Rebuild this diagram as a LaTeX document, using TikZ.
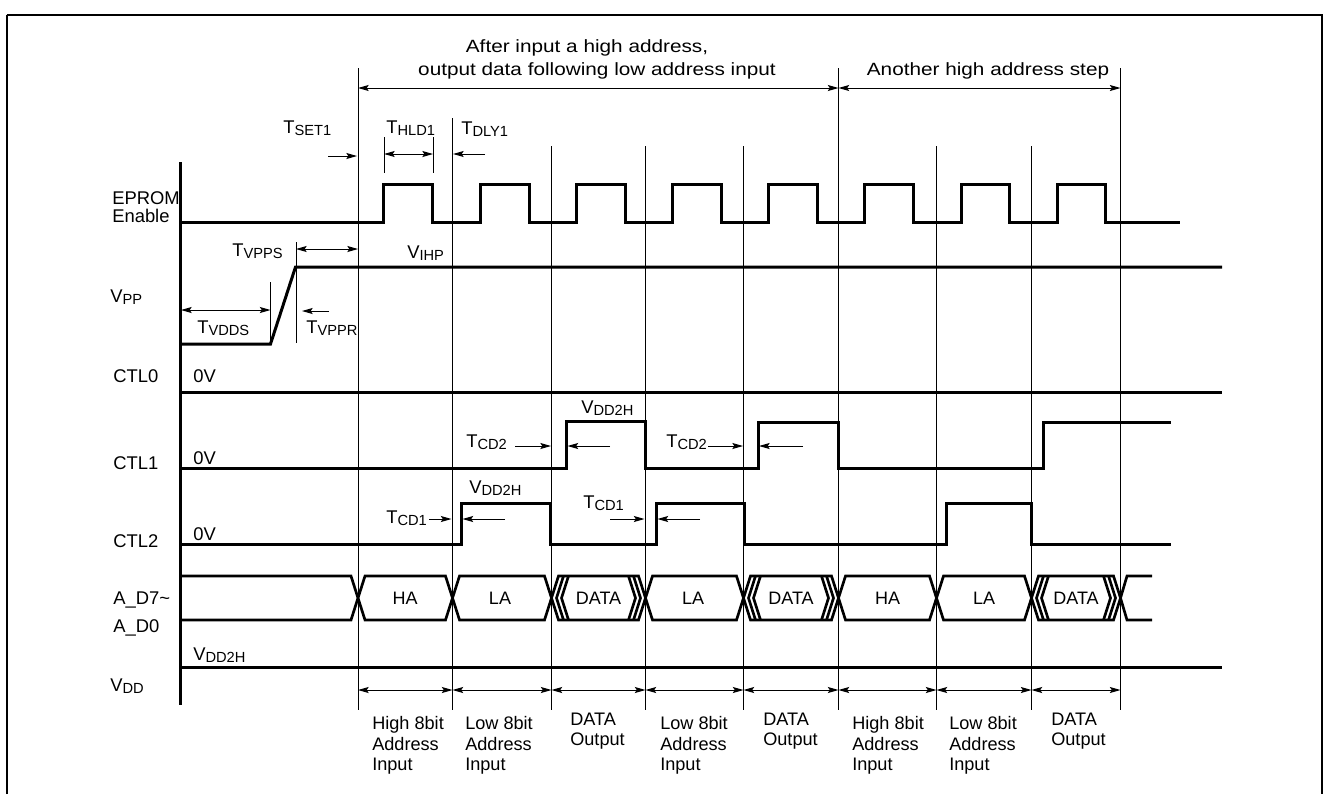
\documentclass[tikz,border=0pt]{standalone}
\usepackage{fontspec}
\setmainfont{Liberation Sans}
\newfontfamily\widefont[FakeStretch=1.17]{Liberation Sans}
\usetikzlibrary{arrows.meta}
\newcommand\sbs[1]{\raisebox{-1.6pt}{\fontsize{11}{12}\selectfont #1}}
\begin{document}
\begin{tikzpicture}[x=0.75pt,y=-0.75pt,
  sig/.style={line width=2.25pt, line join=miter},
  bus/.style={line width=2pt, line join=miter},
  gridl/.style={line width=0.75pt},
  arr/.style={line width=0.75pt, -{Stealth[length=8pt,width=4.5pt,inset=1.5pt]}},
  darr/.style={line width=0.75pt, {Stealth[length=8pt,width=4.5pt,inset=1.5pt]}-{Stealth[length=8pt,width=4.5pt,inset=1.5pt]}},
  lbl/.style={inner sep=0pt, anchor=base west, font=\fontsize{13.8}{16}\selectfont},
  toptxt/.style={inner sep=0pt, anchor=base, font=\widefont\fontsize{13.3}{16}\selectfont},
  bustxt/.style={inner sep=0pt, anchor=center, font=\fontsize{13.5}{16}\selectfont},
  blbl/.style={inner sep=0pt, anchor=north west, align=left, font=\fontsize{13.6}{15.4}\selectfont}
]
\useasboundingbox (0,0) rectangle (1326,794);
% frame
\draw[line width=0.9pt] (7,794) -- (7,15);
\draw[line width=1.5pt] (6.5,15) -- (1322.5,15);
\draw[line width=0.9pt] (1322,15) -- (1322,794);

% grid lines
\foreach \x/\t in {358/68, 452.5/118, 551.5/146, 645.5/146, 743.5/146, 838.5/68, 936.5/146, 1031.5/146, 1120.5/68}
  \draw[gridl] (\x,\t) -- (\x,710);

% axis
\draw[sig] (180,162) -- (180,705);

% top arrows and texts
\draw[darr] (358,88) -- (838.5,88);
\draw[darr] (838.5,88) -- (1120.5,88);
\node[toptxt] (top1) at (587,52) {After input a high address,};
\node[toptxt] (top2) at (597,75) {output data following low address input};
\node[toptxt] (top3) at (988,75) {Another high address step};

% left labels
\node[lbl] (lep1) at (112,204) {EPROM};
\node[lbl] (lep2) at (112,222) {Enable};
\node[lbl] (lvpp) at (110,302) {V\sbs{PP}};
\node[lbl] (lc0) at (113,382) {CTL0};
\node[lbl] (lc1) at (113,469) {CTL1};
\node[lbl] (lc2) at (113,547) {CTL2};
\node[lbl] (lad1) at (113,604) {A\_D7\textasciitilde};
\node[lbl] (lad2) at (113,632) {A\_D0};
\node[lbl] (lvdd) at (110,691) {V\sbs{DD}};
\node[lbl] (z0) at (193,382) {0V};
\node[lbl] (z1) at (193,464) {0V};
\node[lbl] (z2) at (193,540) {0V};
\node[lbl] (vddh) at (193,660) {V\sbs{DD2H}};

% EPROM enable
\draw[sig] (180,222) -- (383,222) |- (432,184) |- (480,222) |- (529,184) |- (576,222) |- (625,184)
  |- (672,222) |- (721,184) |- (768,222) |- (817,184) |- (864,222) |- (913,184) |- (961,222)
  |- (1009,184) |- (1057,222) |- (1105,184) |- (1180,222);

% VPP
\draw[sig] (180,344) -- (270.5,344) -- (295.5,267) -- (1222,267);
% CTL0
\draw[sig] (180,392) -- (1222,392);
% CTL1
\draw[sig] (180,468) -| (566.5,421) -| (645.5,468) -| (758,422) -| (838.5,468) -| (1043,422) -- (1171,422);
% CTL2
\draw[sig] (180,544) -| (461.5,503) -| (550,544) -| (656.5,503) -| (744,544) -| (946.5,503) -| (1031.5,544) -- (1171,544);
% VDD
\draw[sig] (180,667) -- (1222,667);

% bus
\draw[bus] (180,576) -- (351,576) -- (358,598) -- (351,620) -- (180,620);
\foreach \a/\b in {358/452.5, 452.5/551.5, 551.5/645.5, 645.5/743.5, 743.5/838.5, 838.5/936.5, 936.5/1031.5, 1031.5/1120.5}
  \draw[bus] (\a,598) -- ({\a+7},576) -- ({\b-7},576) -- (\b,598) -- ({\b-7},620) -- ({\a+7},620) -- cycle;
\foreach \a/\b in {551.5/645.5, 743.5/838.5, 1031.5/1120.5}{
  \draw[bus] ({\a+12},576) -- ({\a+5},598) -- ({\a+12},620);
  \draw[bus] ({\a+17},576) -- ({\a+10},598) -- ({\a+17},620);
  \draw[bus] ({\b-12},576) -- ({\b-5},598) -- ({\b-12},620);
  \draw[bus] ({\b-17},576) -- ({\b-10},598) -- ({\b-17},620);
}
\draw[bus] (1152,576) -- (1127,576) -- (1120.5,598) -- (1127,620) -- (1152,620);
\node[bustxt] (ha1) at (405,598) {HA};
\node[bustxt] (la1) at (500,598) {LA};
\node[bustxt] (da1) at (598.5,598) {DATA};
\node[bustxt] (la2) at (693,598) {LA};
\node[bustxt] (da2) at (791,598) {DATA};
\node[bustxt] (ha2) at (887.5,598) {HA};
\node[bustxt] (la3) at (984,598) {LA};
\node[bustxt] (da3) at (1076,598) {DATA};

% timing annotations
\node[lbl] (tset) at (283,133) {T\sbs{SET1}};
\draw[arr] (328,156) -- (357,156);
\node[lbl] (thld) at (386,133) {T\sbs{HLD1}};
\draw[gridl] (384,137) -- (384,173);
\draw[gridl] (433,137) -- (433,173);
\draw[darr] (384,154) -- (433,154);
\node[lbl] (tdly) at (461,134) {T\sbs{DLY1}};
\draw[arr] (485,154) -- (453,154);

\node[lbl] (tvpps) at (232,256) {T\sbs{VPPS}};
\draw[gridl] (296,242) -- (296,343);
\draw[darr] (296,249) -- (358,249);
\node[lbl] (tvdds) at (197,333) {T\sbs{VDDS}};
\draw[gridl] (270.5,282) -- (270.5,343);
\draw[darr] (181,310) -- (270.5,310);
\node[lbl] (tvppr) at (306,333) {T\sbs{VPPR}};
\draw[arr] (329,311) -- (302,311);
\node[lbl] (vihp) at (407,258) {V\sbs{IHP}};

\node[lbl] (tcd2a) at (466,447) {T\sbs{CD2}};
\draw[arr] (515,446) -- (551,446);
\draw[arr] (610,446) -- (567.5,446);
\node[lbl] (tcd2b) at (666,447) {T\sbs{CD2}};
\draw[arr] (708,446) -- (743,446);
\draw[arr] (803,446) -- (759,446);
\node[lbl] (vh1) at (581,413) {V\sbs{DD2H}};

\node[lbl] (tcd1a) at (386,523) {T\sbs{CD1}};
\draw[arr] (429,519) -- (451.5,519);
\draw[arr] (505,519) -- (462.5,519);
\node[lbl] (tcd1b) at (583,508) {T\sbs{CD1}};
\draw[arr] (610,519) -- (644.5,519);
\draw[arr] (700,519) -- (657.5,519);
\node[lbl] (vh2) at (469,493) {V\sbs{DD2H}};

% bottom arrows
\foreach \a/\b in {358/452.5, 452.5/551.5, 551.5/645.5, 645.5/743.5, 743.5/838.5, 838.5/936.5, 936.5/1031.5, 1031.5/1120.5}
  \draw[darr] (\a,690) -- (\b,690);

% bottom labels
\node[blbl] (bl1) at (372,716.5) {High 8bit\\Address\\Input};
\node[blbl] (bl2) at (465,716.5) {Low 8bit\\Address\\Input};
\node[blbl] (bl3) at (570,712.5) {DATA\\Output};
\node[blbl] (bl4) at (660,716.5) {Low 8bit\\Address\\Input};
\node[blbl] (bl5) at (763,712.5) {DATA\\Output};
\node[blbl] (bl6) at (852,716.5) {High 8bit\\Address\\Input};
\node[blbl] (bl7) at (949,716.5) {Low 8bit\\Address\\Input};
\node[blbl] (bl8) at (1051,712.5) {DATA\\Output};
\end{tikzpicture}
\end{document}
